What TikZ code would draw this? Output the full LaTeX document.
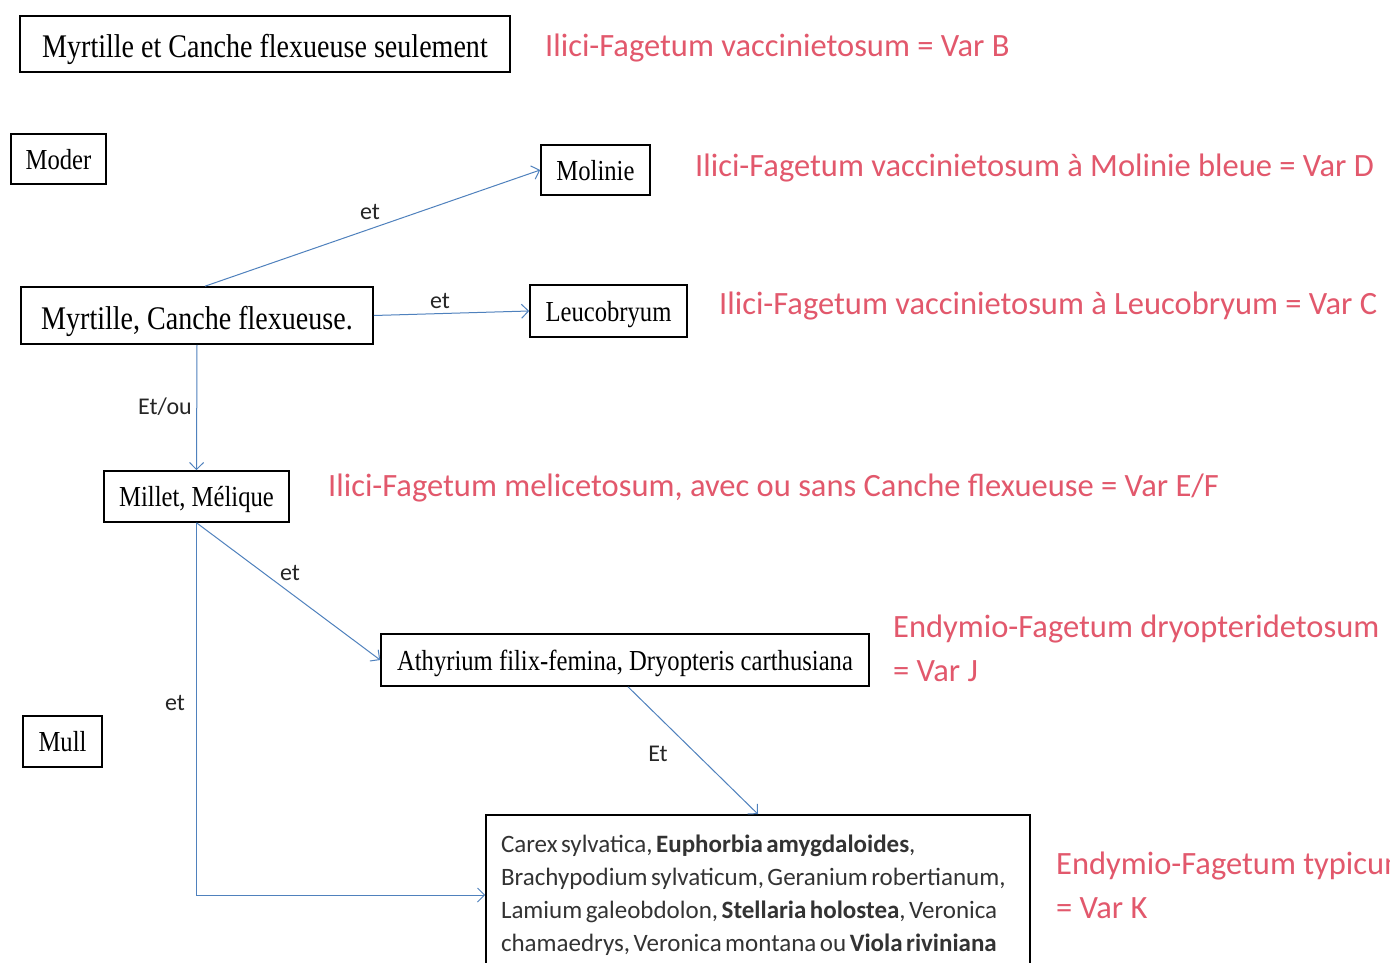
\documentclass[tikz,border=0pt]{standalone}
\usepackage{fontspec}
\setmainfont{Liberation Serif}
\newfontfamily\serifnarrow[FakeStretch=0.85]{Liberation Serif}
\newfontfamily\calfont{Carlito}
\usetikzlibrary{arrows.meta}
\definecolor{redtxt}{RGB}{226,88,108}
\definecolor{arrowblue}{RGB}{79,129,189}
\newcommand\tightsp{\spaceskip=0.14em plus 0.05em minus 0.02em\relax}
\begin{document}
\begin{tikzpicture}[x=1pt,y=-1pt,
 box/.style={draw=black, line width=1.6pt, inner sep=0pt, text height=20pt, text depth=0pt, font=\serifnarrow\fontsize{29}{33}\selectfont},
 bigbox/.style={box, text height=27pt, font=\serifnarrow\fontsize{33}{37}\selectfont},
 conn/.style={draw=arrowblue, line width=1pt, -{Straight Barb[length=7pt,width=14pt]}},
 lbl/.style={font=\calfont\fontsize{24}{28}\selectfont, text=black!85, inner sep=0pt},
 var/.style={font=\calfont\fontsize{32.5}{44}\selectfont, text=redtxt, anchor=west, align=left, inner sep=0pt}]
\useasboundingbox (0,0) rectangle (1390,963);
\clip (0,0) rectangle (1390,963);
\fill[white] (0,0) rectangle (1390,963);

% boxes
\node[bigbox, minimum width=490, minimum height=56] (top) at (265,44) {Myrtille et Canche flexueuse seulement};
\node[box, minimum width=95, minimum height=50] (moder) at (58.5,159) {Moder};
\node[box, minimum width=109, minimum height=50] (mol) at (595.5,170) {Molinie};
\node[bigbox, minimum width=352, minimum height=57] (myr) at (197,315.5) {Myrtille, Canche flexueuse.};
\node[box, minimum width=157, minimum height=52] (leu) at (608.5,311) {Leucobryum};
\node[box, minimum width=185, minimum height=51] (mil) at (196.5,496.5) {Millet, Mélique};
\node[box, minimum width=488, minimum height=52] (ath) at (625,660) {Athyrium filix-femina, Dryopteris carthusiana};
\node[box, minimum width=79, minimum height=51] (mull) at (62.5,741.5) {Mull};
\node[draw=black, line width=1.6pt, minimum width=544, minimum height=160, text width=514, inner xsep=15pt, inner ysep=0pt, align=left,
      font=\calfont\fontsize{25}{33}\selectfont, text=black!80] (carex) at (758,895)
 {\tightsp Carex sylvatica, \textbf{Euphorbia amygdaloides},\\
  Brachypodium sylvaticum, Geranium robertianum,\\
  Lamium galeobdolon, \textbf{Stellaria holostea}, Veronica\\
  chamaedrys, Veronica montana ou \textbf{Viola riviniana}};

% connectors
\draw[conn] ([xshift=8pt]myr.north) -- (mol.west);
\draw[conn] (myr.east) -- (leu.west);
\draw[conn] (myr.south) -- (mil.north);
\draw[conn] (mil.south) -- (ath.west);
\draw[conn] (mil.south) |- (carex.west);
\draw[conn] ([xshift=3pt]ath.south) -- (carex.north);

% connector labels
\node[lbl] (l1) at (370,212) {et};
\node[lbl] (l2) at (440,301) {et};
\node[lbl] (l3) at (165,407) {Et/ou};
\node[lbl] (l4) at (290,573) {et};
\node[lbl] (l5) at (175,703) {et};
\node[lbl] (l6) at (658,754) {Et};

% red outcomes
\node[var] (vb) at (545,48) {Ilici-Fagetum vaccinietosum = Var B};
\node[var] (vd) at (695,168) {Ilici-Fagetum vaccinietosum à Molinie bleue = Var D};
\node[var] (vc) at (719,306) {Ilici-Fagetum vaccinietosum à Leucobryum = Var C};
\node[var] (vef) at (328,488) {Ilici-Fagetum melicetosum, avec ou sans Canche flexueuse = Var E/F};
\node[var] (vj) at (893,648) {Endymio-Fagetum dryopteridetosum\\= Var J};
\node[var] (vk) at (1056,885) {Endymio-Fagetum typicum\\= Var K};
\end{tikzpicture}
\end{document}
